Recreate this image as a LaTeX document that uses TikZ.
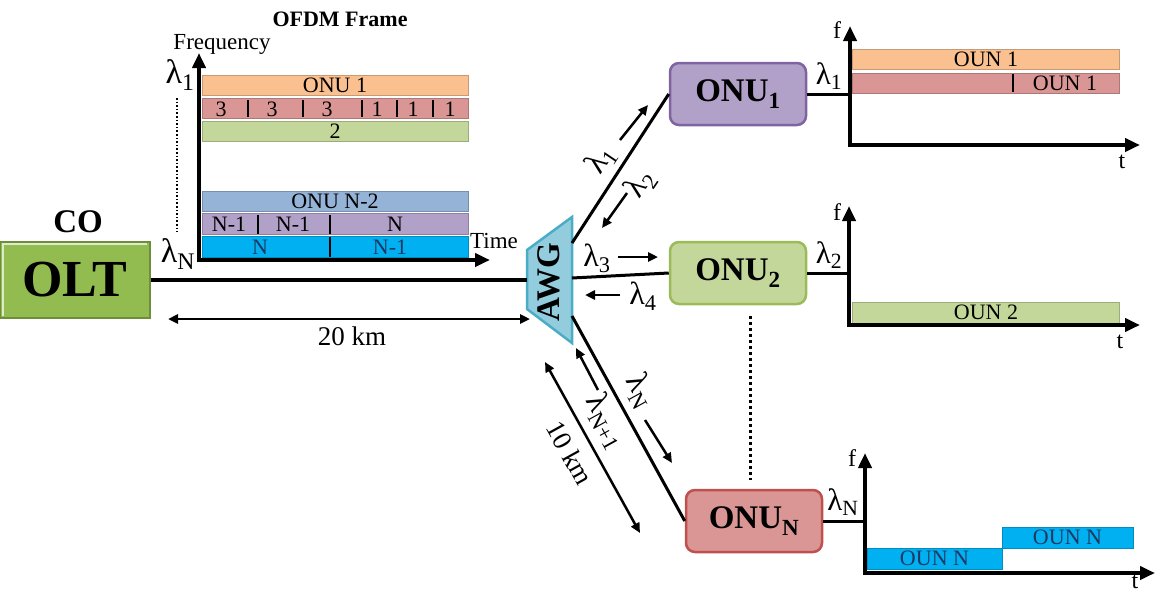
\documentclass[tikz,border=0pt]{standalone}
\usepackage{fontspec}
\setmainfont{Liberation Serif}
\usetikzlibrary{arrows.meta,calc}
\definecolor{orF}{HTML}{FAC090}
\definecolor{rdF}{HTML}{DA9694}
\definecolor{rdD}{HTML}{C0504D}
\definecolor{grF}{HTML}{C4D79B}
\definecolor{grD}{HTML}{9BBB59}
\definecolor{blF}{HTML}{95B3D7}
\definecolor{puF}{HTML}{B1A0C7}
\definecolor{puD}{HTML}{8064A2}
\definecolor{cyF}{HTML}{00B0F0}
\definecolor{awF}{HTML}{93CDDD}
\definecolor{awD}{HTML}{4BACC6}
\definecolor{olF}{HTML}{92BC50}
\definecolor{olD}{HTML}{6E8E3A}
\definecolor{navy}{HTML}{1F3864}
\newcommand{\fs}[1]{\fontsize{#1}{#1}\selectfont}
\newcommand{\lam}[1]{λ\textsubscript{#1}}
\begin{document}
\begin{tikzpicture}[x=1pt,y=-1pt,
  bar/.style={draw=#1!80!black, fill=#1, line width=0.8pt, minimum height=20pt, inner sep=0pt, font=\fs{22}},
  btxt/.style={inner sep=0pt, font=\fs{22}},
  divider/.style={line width=2.8pt},
  axis/.style={line width=4pt, -{Triangle[length=15pt,width=13pt]}},
  sarr/.style={line width=2.5pt, -{Triangle[length=10pt,width=9pt]}},
  dimarr/.style={line width=2.5pt, {Triangle[length=10pt,width=9pt]}-{Triangle[length=10pt,width=9pt]}},
  fiber/.style={line width=3pt},
  onu/.style={rounded corners=9pt, line width=2.5pt, minimum width=136pt, minimum height=62pt, inner sep=0pt, font=\bfseries\fs{33}},
  lab/.style={inner sep=0pt, font=\fs{#1}},
  lab/.default=32
]
\useasboundingbox (0,0) rectangle (1159,592);

% ---------- OFDM frame (left chart) ----------
\node[font=\bfseries\fs{22}] (title) at (340,19) {OFDM Frame};
\node[lab=23] (freq) at (222,44) {Frequency};
\node[lab=23] (time) at (494,241) {Time};
\node[lab=34] (l1) at (180,75) {\lam{1}};
\node[lab=34] (lN) at (178,254) {\lam{N}};
\draw[line width=1.6pt, dotted] (177,98) -- (177,232);

\node[bar=orF, minimum width=266pt] (b1) at (335,85) {ONU 1};
\node[bar=rdF, minimum width=266pt] (b2) at (335,108) {};
\foreach \x/\t [count=\i] in {221/3,272/3,327/3,377/1,413/1,450/1}
  \node[btxt] (r\i) at (\x,109) {\t};
\foreach \x in {248,303,362,397,433} \draw[divider] (\x,100) -- (\x,117);
\node[bar=grF, minimum width=266pt] (b3) at (335,131) {2};

\node[bar=blF, minimum width=266pt] (b4) at (335,201) {ONU N-2};
\node[bar=puF, minimum width=266pt, minimum height=21pt] (b5) at (335,224) {};
\node[btxt] (p1) at (229,224) {N-1};
\node[btxt] (p2) at (293,224) {N-1};
\node[btxt] (p3) at (395,224) {N};
\foreach \x in {258,330} \draw[divider] (\x,215) -- (\x,234);
\node[bar=cyF, minimum width=266pt, minimum height=21pt] (b6) at (335,247) {};
\node[btxt, text=navy] (c1) at (260,247) {N};
\node[btxt, text=navy] (c2) at (390,247) {N-1};
\draw[divider] (330,237) -- (330,257);

\draw[axis] (199,262) -- (199,53);
\draw[axis] (197,260) -- (490,260);

% ---------- CO / OLT ----------
\node[font=\bfseries\fs{33}] (co) at (78,222) {CO};
\node[fill=olF, draw=olD, line width=1.5pt, minimum width=150pt, minimum height=76pt, inner sep=0pt, font=\bfseries\fs{52}] (olt) at (75,280) {OLT};
\draw[white!70!olF, line width=1.5pt] (3,316) -- (3,244) -- (147,244);

% ---------- AWG ----------
\draw[fill=awF, draw=awD, line width=2.5pt] (527,250) -- (572,217) -- (572,343) -- (527,309) -- cycle;
\node[rotate=90, font=\bfseries\fs{33}, inner sep=0pt] (awg) at (549,282) {AWG};
\coordinate (awgW) at (527,280);
\coordinate (awg1) at (572,243);
\coordinate (awg2) at (572,278);
\coordinate (awg3) at (572,316);

\draw[line width=3.5pt] (olt.east) -- (awgW);
\coordinate (d20a) at (168,319);
\coordinate (d20b) at (530,319);
\draw[dimarr] (d20a) -- (d20b);
\node[lab=27] (km20) at (352,336) {20 km};

% ---------- ONUs ----------
\node[onu, fill=puF, draw=puD] (onu1) at (738,94) {ONU\textsubscript{1}};
\node[onu, fill=grF, draw=grD] (onu2) at (738,273) {ONU\textsubscript{2}};
\node[onu, fill=rdF, draw=rdD] (onuN) at (754,521) {ONU\textsubscript{N}};

\draw[fiber] (awg1) -- (onu1.west);
\draw[fiber] (awg2) -- (onu2.west);
\draw[fiber] (awg3) -- (onuN.west);
\draw[line width=3pt, dash pattern=on 3pt off 3pt] (750,316) -- (750,480);

% wavelength arrows
\coordinate (a1s) at (620,140); \coordinate (a1e) at (648,105);
\draw[sarr] (a1s) -- (a1e);
\node[lab, rotate=56] (t1) at (601,160) {\lam{1}};
\coordinate (a2s) at (627,193); \coordinate (a2e) at (602,228);
\draw[sarr] (a2s) -- (a2e);
\node[lab, rotate=56] (t2) at (640,184) {\lam{2}};

\coordinate (a3s) at (618,257); \coordinate (a3e) at (658,257);
\draw[sarr] (a3s) -- (a3e);
\node[lab] (t3) at (597,258) {\lam{3}};
\coordinate (a4s) at (620,295); \coordinate (a4e) at (585,295);
\draw[sarr] (a4s) -- (a4e);
\node[lab] (t4) at (643,296) {\lam{4}};

\coordinate (aNs) at (645,420); \coordinate (aNe) at (672,463);
\draw[sarr] (aNs) -- (aNe);
\node[lab, rotate=-61] (tN) at (640,391) {\lam{N}};
\coordinate (aN1s) at (598,390); \coordinate (aN1e) at (576,348);
\draw[sarr] (aN1s) -- (aN1e);
\node[lab, rotate=-61] (tN1) at (606,421) {\lam{N+1}};

\coordinate (d10a) at (545,362); \coordinate (d10b) at (640,533);
\draw[dimarr] (d10a) -- (d10b);
\node[lab=27, rotate=-61] (km10) at (570,453) {10 km};

% ---------- chart ONU1 ----------
\draw[fiber] (onu1.east) -- (850,94);
\node[lab=31] (r1l) at (829,76) {\lam{1}};
\node[lab=24] (r1f) at (837,30) {f};
\node[lab=24] (r1t) at (1122,162) {t};
\node[bar=orF, minimum width=267pt] (o1a) at (986,59) {OUN 1};
\node[bar=rdF, minimum width=267pt] (o1b) at (986,83) {};
\draw[divider] (1013,74) -- (1013,92);
\node[btxt] (o1bt) at (1065,83) {OUN 1};
\draw[axis] (850,147) -- (850,26);
\draw[axis] (848,145) -- (1140,145);

% ---------- chart ONU2 ----------
\draw[fiber] (onu2.east) -- (849,273);
\node[lab=31] (r2l) at (829,255) {\lam{2}};
\node[lab=24] (r2f) at (837,212) {f};
\node[lab=24] (r2t) at (1120,342) {t};
\node[bar=grF, minimum width=267pt, minimum height=21pt] (o2) at (986,312.5) {OUN 2};
\draw[axis] (849,327) -- (849,206);
\draw[axis] (847,325) -- (1140,325);

% ---------- chart ONUN ----------
\draw[fiber] (onuN.east) -- (865,521);
\node[lab=31] (rNl) at (843,502) {\lam{N}};
\node[lab=24] (rNf) at (852,458) {f};
\node[lab=24] (rNt) at (1135,582) {t};
\node[bar=cyF, minimum width=135pt, minimum height=21pt, text=navy] (oNa) at (934.5,558.5) {OUN N};
\node[bar=cyF, minimum width=131pt, minimum height=21pt, text=navy] (oNb) at (1067.5,537.5) {OUN N};
\draw[axis] (865,575) -- (865,453);
\draw[axis] (863,573) -- (1155,573);
\end{tikzpicture}
\end{document}
